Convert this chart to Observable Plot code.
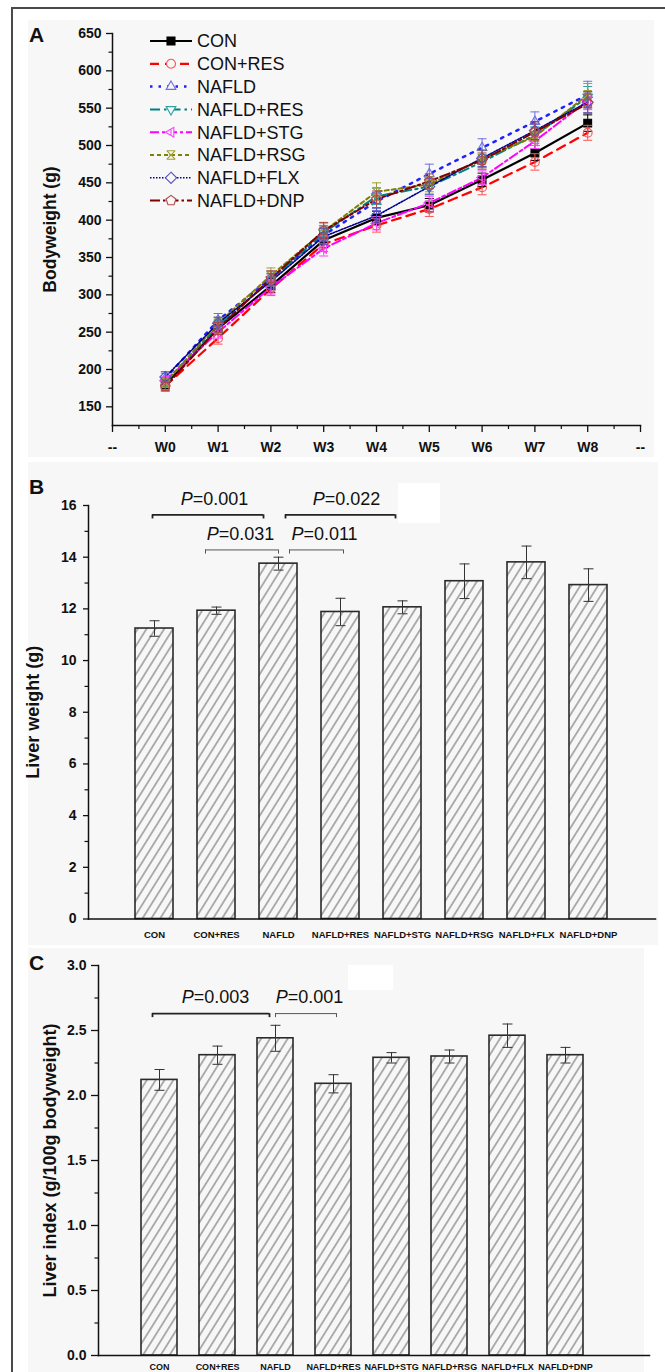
<!DOCTYPE html>
<html>
<head>
<meta charset="utf-8">
<script src="https://cdn.jsdelivr.net/npm/d3@7"></script>
<script src="https://cdn.jsdelivr.net/npm/@observablehq/plot@0.6"></script>
<style>
  body { margin: 0; background: #fff; }
  #fig { position: relative; width: 665px; height: 1372px; overflow: hidden;
         font-family: "Liberation Sans", Arial, Helvetica, sans-serif; }
  .bg { position: absolute; background: #f7f7f7; }
  .wp { position: absolute; background: #ffffff; }
  .fl { position: absolute; background: #4a4a4a; }
  .panel { position: absolute; left: 0; }
  .lab { position: absolute; font-weight: bold; font-size: 21px; line-height: 21px; color: #111; }
</style>
</head>
<body>
<div id="fig">
  <div class="bg" style="left:28px;top:20px;width:626px;height:437px"></div>
  <div class="bg" style="left:28px;top:462px;width:630px;height:483px"></div>
  <div class="bg" style="left:28px;top:948px;width:616px;height:424px"></div>
  <div class="wp" style="left:398px;top:483px;width:42px;height:40px"></div>
  <div class="wp" style="left:348px;top:965px;width:45px;height:25px"></div>
  <div class="fl" style="left:11px;top:7px;width:2px;height:1400px"></div>
  <div class="fl" style="left:11px;top:7px;width:700px;height:2px"></div>
  <div id="pa" class="panel" style="top:0px"></div>
  <div id="pb" class="panel" style="top:460px"></div>
  <div id="pc" class="panel" style="top:940px"></div>
  <div class="lab" style="left:29px;top:24px">A</div>
  <div class="lab" style="left:29px;top:476px">B</div>
  <div class="lab" style="left:29px;top:952px">C</div>
</div>
<script>
// ---------------- DATA ----------------
const weeks = ["W0","W1","W2","W3","W4","W5","W6","W7","W8"];
const xTickLabelsA = ["--","W0","W1","W2","W3","W4","W5","W6","W7","W8","--"];
const xTicksA = [-1,0,1,2,3,4,5,6,7,8,9];
const xMinorA = [-0.5,0.5,1.5,2.5,3.5,4.5,5.5,6.5,7.5,8.5];
const yTicksA = [150,200,250,300,350,400,450,500,550,600,650];
const yMinorA = [175,225,275,325,375,425,475,525,575,625];

const groups = ["CON","CON+RES","NAFLD","NAFLD+RES","NAFLD+STG","NAFLD+RSG","NAFLD+FLX","NAFLD+DNP"];

// Bodyweight (g) per week
const bwCON       = [180,255,312,373,403,420,454,490,530];
const bwCONRES    = [178,242,308,368,393,415,444,478,517];
const bwNAFLD     = [188,266,322,380,425,462,497,532,568];
const bwNAFLDRES  = [183,258,320,383,432,445,478,514,565];
const bwNAFLDSTG  = [185,250,310,362,396,423,457,506,560];
const bwNAFLDRSG  = [182,262,326,385,438,448,482,512,568];
const bwNAFLDFLX  = [190,262,318,378,406,445,483,520,558];
const bwNAFLDDNP  = [177,255,322,386,428,452,480,518,556];
// standard errors
const seCON       = [6,8,9,10,9,9,9,10,11];
const seCONRES    = [6,8,9,10,9,10,10,11,10];
const seNAFLD     = [7,9,10,11,12,13,12,13,18];
const seNAFLDRES  = [6,8,9,10,11,10,10,11,14];
const seNAFLDSTG  = [6,8,9,10,9,9,9,10,12];
const seNAFLDRSG  = [6,8,10,11,12,10,11,12,15];
const seNAFLDFLX  = [7,8,10,11,10,11,11,12,14];
const seNAFLDDNP  = [6,8,10,11,11,10,10,12,13];

// Liver weight (g)
const lwMean = [11.24,11.93,13.75,11.88,12.06,13.07,13.80,12.92];
const lwSE   = [0.30,0.14,0.25,0.53,0.25,0.67,0.63,0.63];
const yTicksB = [0,2,4,6,8,10,12,14,16];
const yMinorB = [1,3,5,7,9,11,13,15];
const annB = [
  {p:"0.001", from:"CON",     to:"NAFLD",     level:15.64},
  {p:"0.022", from:"NAFLD",   to:"NAFLD+STG", level:15.64},
  {p:"0.031", from:"CON+RES", to:"NAFLD",     level:14.28},
  {p:"0.011", from:"NAFLD",   to:"NAFLD+RES", level:14.28}
];

// Liver index (g/100g bodyweight)
const liMean = [2.12,2.31,2.44,2.09,2.29,2.30,2.46,2.31];
const liSE   = [0.08,0.07,0.10,0.07,0.04,0.05,0.09,0.06];
const yTicksC = [0,0.5,1.0,1.5,2.0,2.5,3.0];
const yMinorC = [0.25,0.75,1.25,1.75,2.25,2.75];
const annC = [
  {p:"0.003", from:"CON",   to:"NAFLD",     level:2.63},
  {p:"0.001", from:"NAFLD", to:"NAFLD+RES", level:2.63}
];

// ---------------- STYLES ----------------
const FONT = "'Liberation Sans', Arial, Helvetica, sans-serif";
// bracket styling: [start offset, end offset, text offset (px from 'from' centre), stroke width]
const annStyleB = [[-2,-15,60,1.8],[7,-7,68,1.8],[-11,0,24,1],[11,3,46,1]];
const annStyleC = [[-7,-6,56,1.8],[0,3,34,1]];

function rr(size) { return Math.sqrt(size / Math.PI); }
const triUp = {draw(c, s){ const r = rr(s)*1.25; c.moveTo(0,-r); c.lineTo(r*0.866, r*0.5); c.lineTo(-r*0.866, r*0.5); c.closePath(); }};
const triDown = {draw(c, s){ const r = rr(s)*1.25; c.moveTo(0, r); c.lineTo(r*0.866, -r*0.5); c.lineTo(-r*0.866, -r*0.5); c.closePath(); }};
const triLeft = {draw(c, s){ const r = rr(s)*1.25; c.moveTo(-r,0); c.lineTo(r*0.5,-r*0.866); c.lineTo(r*0.5, r*0.866); c.closePath(); c.moveTo(0,-r*0.6); c.lineTo(0, r*0.6); }};
const diamondS = {draw(c, s){ const r = rr(s)*1.25; c.moveTo(0,-r); c.lineTo(r,0); c.lineTo(0,r); c.lineTo(-r,0); c.closePath(); }};
const pentagonS = {draw(c, s){ const r = rr(s)*1.15; for (let k=0;k<5;k++){ const a = -Math.PI/2 + k*2*Math.PI/5; const px = r*Math.cos(a), py = r*Math.sin(a); if(k===0) c.moveTo(px,py); else c.lineTo(px,py);} c.closePath(); }};
const hourX = {draw(c, s){ const r = rr(s)*0.95; c.moveTo(-r,-r); c.lineTo(r,r); c.moveTo(r,-r); c.lineTo(-r,r); c.moveTo(-r,-r); c.lineTo(r,-r); c.moveTo(-r,r); c.lineTo(r,r); c.moveTo(-r*0.5,0); c.lineTo(r*0.5,0);} };
const hline = {draw(c, s){ const r = rr(s); c.moveTo(-r,0); c.lineTo(r,0); }};

const lineColors = ["#000000","#ff0000","#2020ff","#008080","#ff00ff","#808000","#000090","#800000"];
const markColors = ["#000000","#ff5050","#7070e0","#30a0a0","#ff40ff","#a0a030","#5050c0","#b04848"];
const dashes = [null,"9,6","2.5,6","10,4,2.5,4","9,3,3,3","4,3","1.5,1.5","10,3,2.5,3"];
const widths = [2.2,2.2,2.5,2,2,2,1.6,2];
const symbols = [d3.symbolSquare, d3.symbolCircle, triUp, triDown, triLeft, hourX, diamondS, pentagonS];
const fills = ["#000000","none","none","none","none","none","none","none"];

const seriesVals = [bwCON,bwCONRES,bwNAFLD,bwNAFLDRES,bwNAFLDSTG,bwNAFLDRSG,bwNAFLDFLX,bwNAFLDDNP];
const seriesSE = [seCON,seCONRES,seNAFLD,seNAFLDRES,seNAFLDSTG,seNAFLDRSG,seNAFLDFLX,seNAFLDDNP];

const svgStyle = {background: "transparent", overflow: "visible", fontFamily: FONT, color: "#111"};

// ---------------- PANEL A ----------------
const bwRows = groups.map((g, gi) => weeks.map((w, wi) => ({g, wi, v: seriesVals[gi][wi], se: seriesSE[gi][wi]})));
const linesA = [], dotsA = [];
bwRows.forEach((rows, gi) => {
  linesA.push(Plot.line(rows, {x: "wi", y: "v", stroke: lineColors[gi], strokeWidth: widths[gi], strokeDasharray: dashes[gi]}));
  dotsA.push(Plot.ruleX(rows, {x: "wi", y1: d => d.v - d.se, y2: d => d.v + d.se, stroke: markColors[gi], strokeWidth: 1}));
  dotsA.push(Plot.dot(rows, {x: "wi", y: d => d.v + d.se, symbol: hline, r: 4.5, stroke: markColors[gi], strokeWidth: 1}));
  dotsA.push(Plot.dot(rows, {x: "wi", y: d => d.v - d.se, symbol: hline, r: 4.5, stroke: markColors[gi], strokeWidth: 1}));
  dotsA.push(Plot.dot(rows, {x: "wi", y: "v", symbol: symbols[gi], r: 4.4, stroke: markColors[gi], fill: fills[gi], strokeWidth: 1.1}));
});

const plotA = Plot.plot({
  width: 665, height: 470,
  marginLeft: 112, marginRight: 25, marginTop: 33, marginBottom: 45,
  style: svgStyle,
  x: {domain: [-1, 9]},
  y: {domain: [125, 650]},
  marks: [
    Plot.frame({anchor: "left", stroke: "#111", strokeWidth: 1.5}),
    Plot.frame({anchor: "bottom", stroke: "#111", strokeWidth: 1.5}),
    Plot.axisY({ticks: yTicksA, tickSize: 6, tickPadding: 5, fontSize: 14, fontWeight: "bold", strokeWidth: 1.3, label: null}),
    Plot.axisY({ticks: yMinorA, tickSize: 3.5, tickFormat: () => "", strokeWidth: 1.2, label: null}),
    Plot.axisX({ticks: xTicksA, tickSize: 7, tickPadding: 10, tickFormat: i => xTickLabelsA[i + 1], fontSize: 14, fontWeight: "bold", strokeWidth: 1.3, label: null}),
    Plot.axisX({ticks: xMinorA, tickSize: 4, tickFormat: () => "", strokeWidth: 1.2, label: null}),
    Plot.text(["Bodyweight (g)"], {frameAnchor: "left", textAnchor: "middle", rotate: -90, dx: -62, fontSize: 17.5, fontWeight: "bold", fill: "#111"}),
    ...linesA,
    ...dotsA
  ]
});
// legend
{
  const lg = d3.select(plotA).append("g").attr("font-family", FONT).attr("font-size", 18).attr("text-anchor", "start");
  groups.forEach((g, i) => {
    const y = 41 + i * 22.8;
    lg.append("line").attr("x1", 150).attr("x2", 192).attr("y1", y).attr("y2", y)
      .attr("stroke", lineColors[i]).attr("stroke-width", widths[i]).attr("stroke-dasharray", dashes[i]);
    lg.append("path").attr("transform", `translate(171,${y})`)
      .attr("d", d3.symbol(symbols[i], Math.PI * 4.5 * 4.5)())
      .attr("stroke", markColors[i]).attr("stroke-width", 1.1)
      .attr("fill", fills[i] === "none" ? "#f7f7f7" : fills[i]);
    lg.append("text").attr("x", 197).attr("y", y).attr("dy", "0.36em").attr("text-anchor", "start").attr("fill", "#111").text(g);
  });
}
document.getElementById("pa").appendChild(plotA);

// ---------------- BAR PANELS ----------------
function barPanel(opts) {
  const {means, ses, yTicks, yMinor, yDomain, yFormat, ann, annStyle, title, titleDx, hatchId,
         height, marginLeft, marginRight, marginTop, marginBottom, xRange, padIn,
         ytSize, ytPad, labelPad, labelSize, drop} = opts;
  const rows = groups.map((g, i) => ({g, v: means[i], se: ses[i]}));
  const step = (xRange[1] - xRange[0]) / groups.length;
  const bw = step * (1 - padIn);
  const annMarks = [];
  ann.forEach((a, k) => {
    const [o1, o2, ot, sw] = annStyle[k];
    const sc = sw > 1.2 ? "#222" : "#555";
    annMarks.push(Plot.ruleY([a], {x1: "from", x2: "to", y: "level", insetLeft: bw / 2 + o1, insetRight: bw / 2 - o2, stroke: sc, strokeWidth: sw}));
    annMarks.push(Plot.ruleX([a], {x: "from", y1: "level", y2: d => d.level - drop, dx: o1, stroke: sc, strokeWidth: sw}));
    annMarks.push(Plot.ruleX([a], {x: "to", y1: "level", y2: d => d.level - drop, dx: o2, stroke: sc, strokeWidth: sw}));
    annMarks.push(Plot.text([a], {x: "from", y: "level", text: d => "P=" + d.p, dx: ot, dy: -16, fontSize: 18, fill: "#111"}));
  });
  const svg = Plot.plot({
    width: 665, height, marginLeft, marginRight, marginTop, marginBottom,
    style: svgStyle,
    x: {type: "band", domain: groups, range: xRange, paddingInner: padIn, paddingOuter: padIn / 2},
    y: {domain: yDomain},
    marks: [
      Plot.barY(rows, {x: "g", y: "v", fill: `url(#${hatchId})`, stroke: "#2a2a2a", strokeWidth: 1.6}),
      Plot.ruleX(rows, {x: "g", y1: d => d.v - d.se, y2: d => d.v + d.se, stroke: "#333", strokeWidth: 1}),
      Plot.dot(rows, {x: "g", y: d => d.v + d.se, symbol: hline, r: 5, stroke: "#333", strokeWidth: 1}),
      Plot.dot(rows, {x: "g", y: d => d.v - d.se, symbol: hline, r: 5, stroke: "#333", strokeWidth: 1}),
      Plot.frame({anchor: "left", stroke: "#111", strokeWidth: 1.5}),
      Plot.frame({anchor: "bottom", stroke: "#111", strokeWidth: 1.5}),
      Plot.axisY({ticks: yTicks, tickSize: ytSize, tickPadding: ytPad, tickFormat: yFormat, fontSize: 14, fontWeight: "bold", strokeWidth: 1.3, label: null}),
      Plot.axisY({ticks: yMinor, tickSize: 3.5, tickFormat: () => "", strokeWidth: 1.2, label: null}),
      Plot.axisX({tickSize: 0, tickPadding: labelPad, fontSize: labelSize, fontWeight: "bold", label: null}),
      Plot.text([title], {frameAnchor: "left", textAnchor: "middle", rotate: -90, dx: titleDx, fontSize: 18, fontWeight: "bold", fill: "#111"}),
      ...annMarks
    ]
  });
  // hatch pattern
  const defs = d3.select(svg).insert("defs", ":first-child");
  defs.append("pattern").attr("id", hatchId).attr("patternUnits", "userSpaceOnUse")
    .attr("width", 7.5).attr("height", 7.5).attr("patternTransform", "rotate(32)")
    .append("line").attr("x1", 3.75).attr("x2", 3.75).attr("y1", -1).attr("y2", 8.5)
    .attr("stroke", "#555").attr("stroke-width", 0.9);
  // italic P
  d3.select(svg).selectAll("text").each(function () {
    const t = this.textContent;
    if (t.startsWith("P=")) {
      const s = d3.select(this);
      s.text(null);
      s.append("tspan").attr("font-style", "italic").text("P");
      s.append("tspan").text(t.slice(1));
    }
  });
  return svg;
}

const plotB = barPanel({
  means: lwMean, ses: lwSE, yTicks: yTicksB, yMinor: yMinorB, yDomain: [0, 16], yFormat: d => d,
  ann: annB, annStyle: annStyleB, title: "Liver weight (g)", titleDx: -55, hatchId: "hatchB",
  height: 490, marginLeft: 88, marginRight: 10, marginTop: 45, marginBottom: 31.5,
  xRange: [121, 621], padIn: 0.39, ytSize: 5, ytPad: 7, labelPad: 12.5, labelSize: 9.5, drop: 0.16
});
document.getElementById("pb").appendChild(plotB);

const plotC = barPanel({
  means: liMean, ses: liSE, yTicks: yTicksC, yMinor: yMinorC, yDomain: [0, 3], yFormat: d => d.toFixed(1),
  ann: annC, annStyle: annStyleC, title: "Liver index (g/100g bodyweight)", titleDx: -48, hatchId: "hatchC",
  height: 432, marginLeft: 98, marginRight: 16, marginTop: 25, marginBottom: 17,
  xRange: [127.7, 596.8], padIn: 0.386, ytSize: 7, ytPad: 5, labelPad: 8, labelSize: 9, drop: 0.031
});
document.getElementById("pc").appendChild(plotC);
</script>
</body>
</html>
